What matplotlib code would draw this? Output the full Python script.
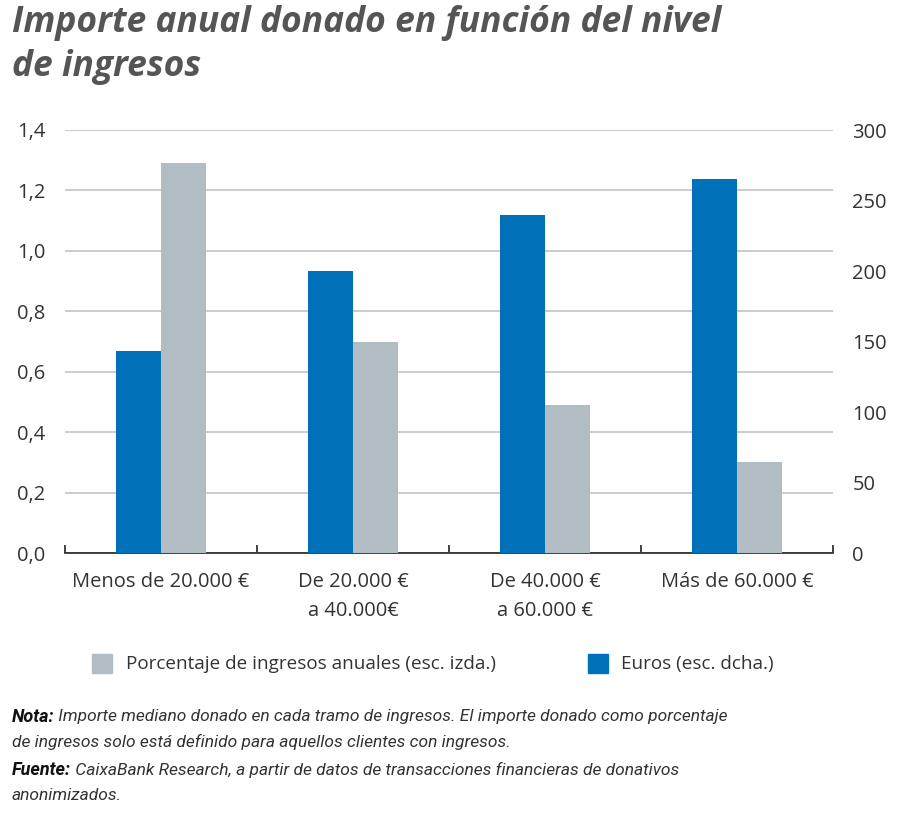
import matplotlib.pyplot as plt
import numpy as np
from matplotlib.patches import Rectangle

# Data
categories = ["Menos de 20.000 €", "De 20.000 €\na 40.000€", "De 40.000 €\na 60.000 €", "Más de 60.000 €"]
euros = [143, 200, 240, 265]          # right axis
porcentaje = [1.29, 0.70, 0.49, 0.30]  # left axis
left_ticks = [0.0, 0.2, 0.4, 0.6, 0.8, 1.0, 1.2, 1.4]
right_ticks = [0, 50, 100, 150, 200, 250, 300]

blue = "#0071b9"
gray = "#b1bdc2"
txt = "#333333"

plt.rcParams["font.family"] = ["Open Sans", "DejaVu Sans"]

fig = plt.figure(figsize=(9, 8.23), dpi=100)
ax = fig.add_axes([65 / 900, 1 - 553 / 823, 768 / 900, 423 / 823])
ax2 = ax.twinx()

x = np.arange(len(categories))
w = 0.235
ax2.bar(x - w / 2, euros, width=w, color=blue, zorder=3)
ax.bar(x + w / 2, porcentaje, width=w, color=gray, zorder=3)

ax.set_xlim(-0.5, 3.5)
ax.set_ylim(0, 1.4)
ax2.set_ylim(0, 300)
ax.set_yticks(left_ticks)
ax.set_yticklabels([f"{v:.1f}".replace(".", ",") for v in left_ticks])
ax2.set_yticks(right_ticks)
ax2.set_yticklabels([str(v) for v in right_ticks])

ax.grid(axis="y", color="#c4c4c4", lw=1.2, zorder=0)
ax.set_axisbelow(True)
ax2.set_zorder(ax.get_zorder() + 1)
ax.patch.set_visible(False)

for a in (ax, ax2):
    for s in ("left", "right", "top"):
        a.spines[s].set_visible(False)
    a.tick_params(axis="y", length=0, labelsize=14.5, labelcolor=txt)
ax2.spines["bottom"].set_visible(False)
ax.spines["bottom"].set_color("#222222")
ax.spines["bottom"].set_linewidth(1.2)
ax.tick_params(axis="y", pad=14)
ax2.tick_params(axis="y", pad=14)

# category ticks between groups, labels centred
ax.set_xticks(np.arange(-0.5, 4.0, 1.0))
ax.set_xticklabels([])
ax.tick_params(axis="x", direction="in", length=6, width=1.2, color="#222222")
ax.set_xticks(x, minor=True)
ax.set_xticklabels(categories, minor=True, fontsize=14.5, color=txt, linespacing=1.6)
ax.tick_params(axis="x", which="minor", length=0, pad=14)

# Title
fig.text(12 / 900, 1 - 5 / 823, "Importe anual donado en función del nivel\nde ingresos",
         fontsize=25.5, fontweight="bold", style="italic", color="#555555",
         va="top", ha="left", linespacing=1.3)

# Legend
ly = 1 - 664 / 823
fig.patches.append(Rectangle((92 / 900, ly - 9 / 823), 20 / 900, 19 / 823,
                             transform=fig.transFigure, color=gray))
fig.text(126 / 900, ly, "Porcentaje de ingresos anuales (esc. izda.)", fontsize=13.6,
         color=txt, va="center")
fig.patches.append(Rectangle((588 / 900, ly - 9 / 823), 20 / 900, 19 / 823,
                             transform=fig.transFigure, color=blue))
fig.text(621 / 900, ly, "Euros (esc. dcha.)", fontsize=13.6, color=txt, va="center")

# Notes
nf = ["Roboto", "DejaVu Sans"]
lines = [
    ("Nota:", " Importe mediano donado en cada tramo de ingresos. El importe donado como porcentaje"),
    ("", "de ingresos solo está definido para aquellos clientes con ingresos."),
    ("Fuente:", " CaixaBank Research, a partir de datos de transacciones financieras de donativos"),
    ("", "anonimizados."),
]
ys = [717, 742, 770, 796]
for (b, t), yy in zip(lines, ys):
    y = 1 - yy / 823
    xpos = 12 / 900
    if b:
        tb = fig.text(xpos, y, b, fontsize=13, fontweight="bold", style="italic",
                      family=nf, color="#111111", va="center")
        fig.canvas.draw()
        bb = tb.get_window_extent()
        xpos = bb.x1 / fig.bbox.width
    fig.text(xpos, y, t, fontsize=12.5, style="italic", family=nf, color=txt, va="center")

fig.savefig("out.png", dpi=100)
